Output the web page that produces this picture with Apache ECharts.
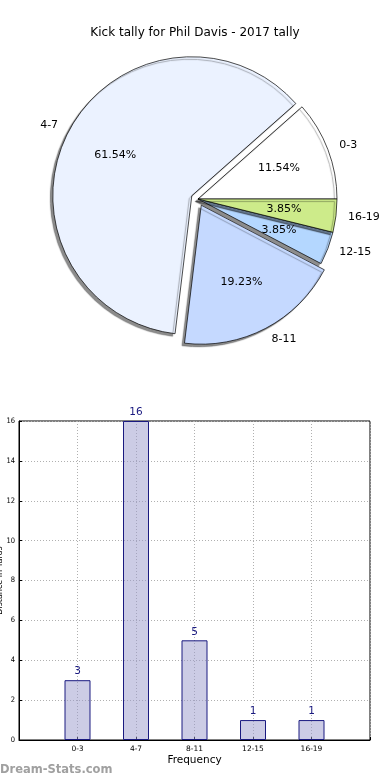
<!DOCTYPE html>
<html>
<head>
<meta charset="utf-8">
<script src="https://cdn.jsdelivr.net/npm/echarts@6/dist/echarts.min.js"></script>
<style>
html,body{margin:0;padding:0;background:#fff;}
#chart{width:390px;height:780px;}
</style>
</head>
<body>
<div id="chart"></div>
<script>
var titleText = 'Kick tally for Phil Davis - 2017 tally';
var categories = ['0-3', '4-7', '8-11', '12-15', '16-19'];
var counts = [3, 16, 5, 1, 1];
var sliceColors = ['#FFFFFF', '#EBF2FF', '#C5D9FF', '#B4D7FF', '#CDEB8A'];
var exploded = [false, true, true, false, false];
var yTicks = { min: 0, max: 16, interval: 2 };
var xAxisName = 'Frequency';
var yAxisName = 'Distance in Yards';
var watermark = 'Dream-Stats.com';

var total = counts.reduce(function (a, b) { return a + b; }, 0);
var FONT = 'DejaVu Sans';

var pieData = categories.map(function (c, i) {
  return {
    name: c, value: counts[i], selected: exploded[i],
    itemStyle: { color: sliceColors[i] }
  };
});
var pieLabelData = categories.map(function (c, i) {
  return { name: c, value: counts[i], selected: exploded[i] };
});

var axisCats = [''].concat(categories, ['']);
var barVals = ['-'].concat(counts, ['-']);

var chart = echarts.init(document.getElementById('chart'), null, { renderer: 'canvas' });
chart.setOption({
  animation: false,
  backgroundColor: '#fff',
  title: {
    text: titleText, left: 'center', top: 22,
    textStyle: { fontFamily: FONT, fontSize: 12, fontWeight: 'normal', color: '#000' }
  },
  graphic: [{
    type: 'text', left: 0, top: 764,
    style: { text: watermark, fill: '#a0a0a0', font: 'bold 11.5px "DejaVu Sans"' }
  }],
  grid: {
    left: 19, top: 421, width: 351, height: 319,
    containLabel: false, outerBoundsMode: 'none',
    show: true, borderColor: '#000', borderWidth: 1, backgroundColor: 'transparent'
  },
  xAxis: {
    type: 'category', data: axisCats, boundaryGap: false,
    name: xAxisName, nameLocation: 'middle', nameGap: 15,
    nameTextStyle: { fontFamily: FONT, fontSize: 10.5, color: '#000' },
    axisLine: { lineStyle: { color: '#000' } },
    axisTick: { show: true, inside: true, length: 3, lineStyle: { color: '#000' } },
    axisLabel: { fontFamily: FONT, fontSize: 7.5, color: '#000', margin: 5, interval: 0 },
    splitLine: { show: true, lineStyle: { color: '#b0b0b0', type: [1, 2] } }
  },
  yAxis: {
    type: 'value', min: yTicks.min, max: yTicks.max, interval: yTicks.interval,
    name: yAxisName, nameLocation: 'middle', nameGap: 15, nameRotate: 90,
    nameMoveOverlap: false,
    nameTextStyle: { fontFamily: FONT, fontSize: 8, color: '#000' },
    axisLine: { show: true, lineStyle: { color: '#000' } },
    axisTick: { show: true, inside: true, length: 3, lineStyle: { color: '#000' } },
    axisLabel: { fontFamily: 'DejaVu Sans Condensed', fontSize: 7.5, color: '#000', margin: 4 },
    splitLine: { show: true, lineStyle: { color: '#b0b0b0', type: [1, 2] } }
  },
  series: [
    {
      type: 'pie', center: [198, 199], radius: 139,
      startAngle: 0, clockwise: false,
      avoidLabelOverlap: false,
      selectedMode: 'multiple', selectedOffset: 7,
      silent: true,
      data: pieData,
      itemStyle: {
        borderColor: '#000', borderWidth: 0.7,
        shadowColor: 'rgba(0,0,0,0.45)', shadowBlur: 1, shadowOffsetX: -2.5, shadowOffsetY: 2.5
      },
      select: { itemStyle: { borderColor: '#000', borderWidth: 0.7 } },
      label: {
        show: true, position: 'outside', formatter: '{b}',
        fontFamily: FONT, fontSize: 11, color: '#000', distanceToLabelLine: 0
      },
      labelLine: { show: false, length: 12, length2: 0 }
    },
    {
      type: 'pie', center: [198, 199], radius: 167,
      startAngle: 0, clockwise: false,
      avoidLabelOverlap: false,
      selectedMode: 'multiple', selectedOffset: 7,
      silent: true,
      data: pieLabelData,
      itemStyle: { color: 'rgba(0,0,0,0)', borderWidth: 0 },
      select: { itemStyle: { color: 'rgba(0,0,0,0)', borderWidth: 0 } },
      label: {
        show: true, position: 'inner',
        formatter: function (p) { return (p.value / total * 100).toFixed(2) + '%'; },
        fontFamily: FONT, fontSize: 11, color: '#000'
      },
      labelLine: { show: false }
    },
    {
      type: 'bar', data: barVals, barWidth: 26,
      itemStyle: { color: 'rgba(153,153,204,0.5)', borderColor: '#1a1a80', borderWidth: 1 },
      label: {
        show: true, position: 'top', distance: 3,
        fontFamily: FONT, fontSize: 10.5, color: '#1a1a80'
      }
    }
  ]
});
</script>
</body>
</html>
